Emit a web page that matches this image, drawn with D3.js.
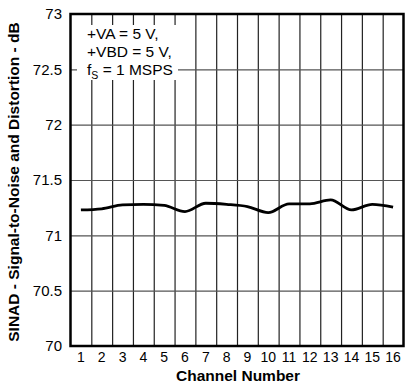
<!DOCTYPE html>
<html>
<head>
<meta charset="utf-8">
<script src="https://cdn.jsdelivr.net/npm/d3@7"></script>
<style>
body{margin:0;background:#fff;}
text{font-family:"Liberation Sans",Arial,sans-serif;}
</style>
</head>
<body>
<svg id="chart" width="405" height="383"></svg>
<script>
// channel numbers and measured SINAD (dB)
const channels = [1,2,3,4,5,6,7,8,9,10,11,12,13,14,15,16];
const sinad = [71.23,71.24,71.275,71.28,71.27,71.215,71.29,71.28,71.26,71.205,71.285,71.285,71.32,71.23,71.28,71.255];
const yTicks = [70,70.5,71,71.5,72,72.5,73];
const notes = ["+VA = 5 V,", "+VBD = 5 V,"];

const WIDTH = 405, HEIGHT = 383;
const MARGIN = {left:70.5, right:1.5, top:14, bottom:37};

let svg = d3.select('#chart');

let xScale = d3.scaleLinear()
    .domain([0.5,16.5])
    .range([MARGIN.left, WIDTH-MARGIN.right]);
let yScale = d3.scaleLinear()
    .domain([70,73])
    .range([HEIGHT-MARGIN.bottom, MARGIN.top]);

let plotW = xScale(16.5)-xScale(0.5);
let plotH = yScale(70)-yScale(73);

// vertical grid lines between channels
let xGrid = d3.range(1.5,16.5,1);
let gx = svg.append('g')
    .attr('class','grid-x')
    .attr('transform',`translate(0,${yScale(70)})`)
    .call(d3.axisBottom(xScale).tickValues(xGrid).tickSize(-plotH).tickFormat(''));
gx.select('.domain').remove();
gx.selectAll('line').attr('stroke','#222').attr('stroke-width',1.2);

// horizontal grid lines
let gy = svg.append('g')
    .attr('class','grid-y')
    .attr('transform',`translate(${xScale(0.5)},0)`)
    .call(d3.axisLeft(yScale).tickValues(yTicks.slice(1,-1)).tickSize(-plotW).tickFormat(''));
gy.select('.domain').remove();
gy.selectAll('line').attr('stroke','#555').attr('stroke-width',1.2);

// annotation box (covers grid)
svg.append('rect')
    .attr('x',77).attr('y',25)
    .attr('width',101).attr('height',55)
    .attr('fill','#fff');

let note = svg.append('g').attr('font-size',15.5).attr('fill','#000');
notes.forEach((t,i)=>{
    note.append('text').attr('x',87).attr('y',38.5+i*18.5).text(t);
});
let fs = note.append('text').attr('x',87).attr('y',75);
fs.append('tspan').text('f');
fs.append('tspan').attr('font-size',10.5).attr('dy',4).text('S');
fs.append('tspan').attr('dy',-4).text(' = 1 MSPS');

// data line
let sinadLine = d3.line()
    .x((d,i)=>xScale(channels[i]))
    .y(d=>yScale(d))
    .curve(d3.curveMonotoneX);
svg.append('path')
    .datum(sinad)
    .attr('d',sinadLine)
    .attr('fill','none')
    .attr('stroke','#000')
    .attr('stroke-width',2.8)
    .attr('stroke-linejoin','round');

// frame
svg.append('rect')
    .attr('x',xScale(0.5)).attr('y',yScale(73))
    .attr('width',plotW)
    .attr('height',plotH)
    .attr('fill','none')
    .attr('stroke','#000')
    .attr('stroke-width',2.5);

// y tick labels
svg.append('g').selectAll('text')
    .data(yTicks)
    .join('text')
    .attr('x',62)
    .attr('y',d=>yScale(d))
    .attr('dy','0.35em')
    .attr('text-anchor','end')
    .attr('font-size',15)
    .text(d=>d);

// x tick labels
svg.append('g').selectAll('text')
    .data(channels)
    .join('text')
    .attr('x',d=>xScale(d))
    .attr('y',357.5)
    .attr('dy','0.35em')
    .attr('text-anchor','middle')
    .attr('font-size',14)
    .text(d=>d);

// axis titles
svg.append('text')
    .attr('x',(xScale(0.5)+xScale(16.5))/2+1)
    .attr('y',375.5)
    .attr('dy','0.35em')
    .attr('text-anchor','middle')
    .attr('font-size',15.5)
    .attr('font-weight','bold')
    .text('Channel Number');

svg.append('text')
    .attr('transform',`translate(14,${(yScale(70)+yScale(73))/2+2}) rotate(-90)`)
    .attr('dy','0.35em')
    .attr('text-anchor','middle')
    .attr('font-size',15.5)
    .attr('font-weight','bold')
    .text('SINAD - Signal-to-Noise and Distortion - dB');
</script>
</body>
</html>
